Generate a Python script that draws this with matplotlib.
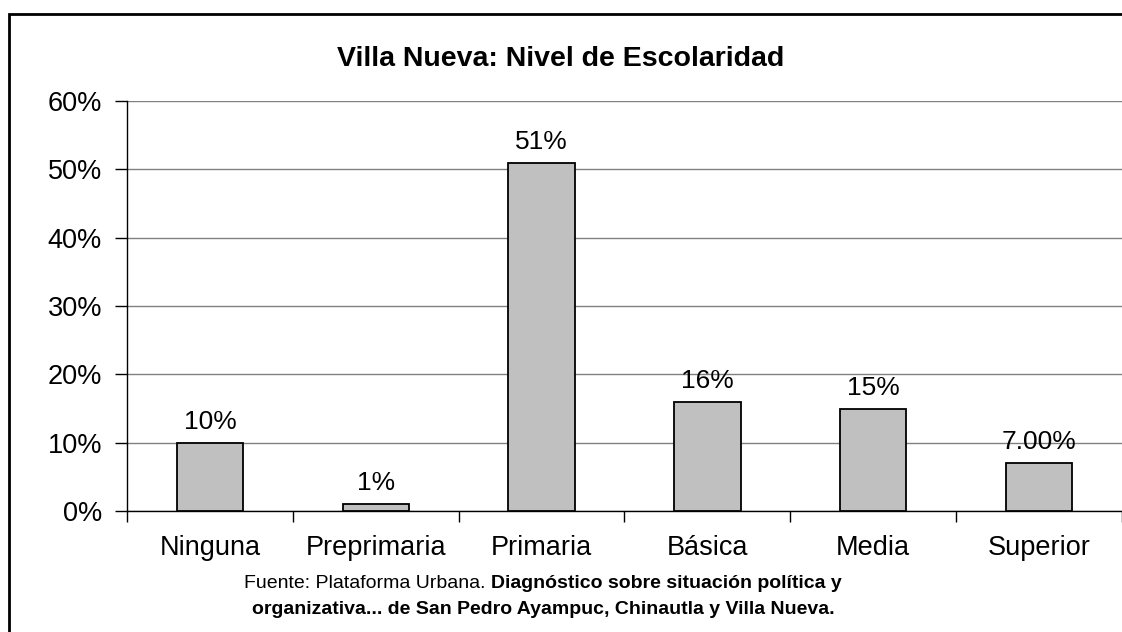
import matplotlib.pyplot as plt
from matplotlib.patches import Rectangle
from matplotlib.ticker import FixedLocator

plt.rcParams['font.family'] = ['Liberation Sans', 'DejaVu Sans']

# Data
categories = ["Ninguna", "Preprimaria", "Primaria", "Básica", "Media", "Superior"]
values = [10, 1, 51, 16, 15, 7]
value_labels = ["10%", "1%", "51%", "16%", "15%", "7.00%"]
y_ticks = [0, 10, 20, 30, 40, 50, 60]

fig = plt.figure(figsize=(11.22, 6.32), dpi=100)
W, H = 1122, 632

# outer frame
fig.patches.append(Rectangle((9 / W, 0 - 0.01), 1.1, (H - 14) / H + 0.01,
                             transform=fig.transFigure, fill=False,
                             edgecolor="black", linewidth=2, clip_on=False))

ax = fig.add_axes([127 / W, 121 / H, (W - 127) / W, 410 / H])

x = list(range(len(categories)))
ax.bar(x, values, width=0.4, color="#c0c0c0", edgecolor="black", linewidth=1.3, zorder=3)

for xi, v, lab in zip(x, values, value_labels):
    ax.text(xi, v + 1.3, lab, ha="center", va="bottom", fontsize=19, zorder=4)

ax.set_xlim(-0.5, len(categories) - 0.5)
ax.set_ylim(0, 60)
ax.set_yticks(y_ticks)
ax.set_yticklabels([f"{t}%" for t in y_ticks], fontsize=19.5)
ax.set_xticks(x)
ax.set_xticklabels(categories, fontsize=19.5)
ax.xaxis.set_minor_locator(FixedLocator([i - 0.5 for i in range(len(categories) + 1)]))

ax.tick_params(axis="x", which="major", length=0, pad=17)
ax.tick_params(axis="x", which="minor", length=8, width=1, direction="out")
ax.tick_params(axis="y", length=9, width=1, direction="out", pad=9)

ax.grid(axis="y", color="#808080", linewidth=1, zorder=0)
for s in ["top", "right"]:
    ax.spines[s].set_visible(False)
ax.spines["left"].set_linewidth(1)
ax.spines["bottom"].set_linewidth(1)

fig.text(561 / W, 1 - 59 / H, "Villa Nueva: Nivel de Escolaridad", ha="center", va="center",
         fontsize=20.5, fontweight="bold")

# footer: normal + bold on first line
fig.canvas.draw()
renderer = fig.canvas.get_renderer()
part1 = "Fuente: Plataforma Urbana. "
part2 = "Diagnóstico sobre situación política y"
t1 = fig.text(0, 0, part1, fontsize=14)
t2 = fig.text(0, 0, part2, fontsize=14, fontweight="bold")
w1 = t1.get_window_extent(renderer).width
w2 = t2.get_window_extent(renderer).width
x0 = 543 - (w1 + w2) / 2
y1 = H - 584
t1.set_position((x0 / W, y1 / H))
t1.set_va("center")
t2.set_position(((x0 + w1) / W, y1 / H))
t2.set_va("center")
fig.text(543 / W, (H - 609) / H, "organizativa... de San Pedro Ayampuc, Chinautla y Villa Nueva.",
         ha="center", va="center", fontsize=14, fontweight="bold")

fig.savefig("out.png", dpi=100)
